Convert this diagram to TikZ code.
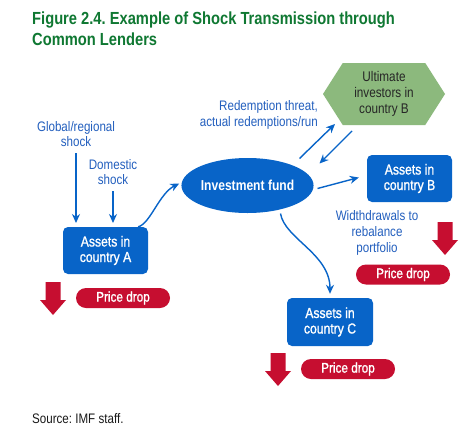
\documentclass[tikz,border=0pt]{standalone}
\usepackage{fontspec}
\setmainfont{Liberation Sans}[FakeStretch=0.84]
\newfontfamily\medfont{Liberation Sans}[FakeStretch=0.84,FakeBold=1.2]
\usetikzlibrary{shapes.geometric,shapes.symbols,shapes.misc,arrows.meta,calc}
\definecolor{ttlgreen}{RGB}{15,120,50}
\definecolor{boxblue}{RGB}{8,100,200}
\definecolor{lblblue}{RGB}{35,95,190}
\definecolor{dropred}{RGB}{198,14,48}
\definecolor{hexgreen}{RGB}{140,185,125}
\frenchspacing
\tikzset{
  assetbox/.style={draw=none,fill=boxblue,rounded corners=5pt,text=white,align=center,font=\medfont\fontsize{14.5}{15.5}\selectfont,inner sep=0pt},
  pricedrop/.style={fill=dropred,rounded rectangle,text=white,minimum width=94pt,minimum height=20pt,inner sep=0pt,font=\medfont\fontsize{14}{15}\selectfont},
  lbl/.style={text=lblblue,align=center,font=\fontsize{13.8}{15.8}\selectfont,inner sep=0pt},
  flow/.style={draw=boxblue,line width=1.4pt,-{Stealth[length=9pt,width=8pt]}},
  droparrow/.pic={\fill[dropred] (-7.5,0) -- (7.5,0) -- (7.5,18) -- (13,18) -- (0,33) -- (-13,18) -- (-7.5,18) -- cycle;}
}
\begin{document}
\begin{tikzpicture}[x=1pt,y=-1pt]
\useasboundingbox[fill=white] (0,0) rectangle (462,444);
\node[anchor=north west,align=left,text=ttlgreen,font=\fontsize{17.5}{21}\selectfont\bfseries,inner sep=0pt] (title) at (32,12) {Figure 2.4. Example of Shock Transmission through\\Common Lenders};
% nodes
\node[assetbox,minimum width=85pt,minimum height=47pt] (A) at (105.5,250.5) {Assets in\\country A};
\node[assetbox,minimum width=85pt,minimum height=47pt] (B) at (409.5,178.5) {Assets in\\country B};
\node[assetbox,minimum width=86pt,minimum height=48pt] (C) at (330,322) {Assets in\\country C};
\node[ellipse,fill=boxblue,minimum width=129pt,minimum height=55pt,inner sep=0pt,text=white,font=\fontsize{14.4}{15}\selectfont\bfseries] (fund) at (247.5,185.5) {Investment fund};
\node[signal,signal to=west and east,signal pointer angle=115,fill=hexgreen,minimum width=122pt,minimum height=62pt,inner sep=0pt,align=center,text=black!85,font=\fontsize{14}{15.8}\selectfont] (hex) at (384,94) {Ultimate\\investors in\\country B};
\node[lbl] (glob) at (76,134) {Global/regional\\shock};
\node[lbl] (dom) at (113,172) {Domestic\\shock};
\node[lbl,align=right,anchor=east] (red) at (318,115) {Redemption threat,\\actual redemptions/run};
\node[lbl] (wd) at (377,233) {Widthdrawals to\\rebalance\\portfolio};
\node[pricedrop] (pdA) at (123,298) {Price drop};
\node[pricedrop] (pdB) at (403,274.5) {Price drop};
\node[pricedrop] (pdC) at (348,369) {Price drop};
\node[anchor=west,inner sep=0pt,font=\fontsize{13.8}{15}\selectfont,text=black!90] (src) at (32,419) {Source: IMF staff.};
% red drop arrows
\pic at (53,282) {droparrow};
\pic at (445,222) {droparrow};
\pic at (278,353) {droparrow};
% connectors
\coordinate (gs) at (76,153);
\coordinate (ds) at (113,191);
\draw[flow] (gs) -- (76,223);
\draw[flow] (ds) -- (113,223);
\draw[flow] ([xshift=-10pt]A.north east) .. controls +(12,-3) and +(-20,10) .. ([xshift=-2pt,yshift=2pt]fund.west);
\draw[flow] ($(fund.center)+(52,-27)$) -- ($(hex.center)+(-49,30)$);
\draw[flow] ($(hex.center)+(-32,37)$) -- ($(fund.center)+(72,-22)$);
\draw[flow] ($(fund.center)+(70,3)$) -- ($(B.west)+(-8,-1)$);
\draw[flow] ($(fund.center)+(33,28)$) .. controls +(4,25) and +(0,-40) .. ([yshift=4pt]C.north);
\end{tikzpicture}
\end{document}
